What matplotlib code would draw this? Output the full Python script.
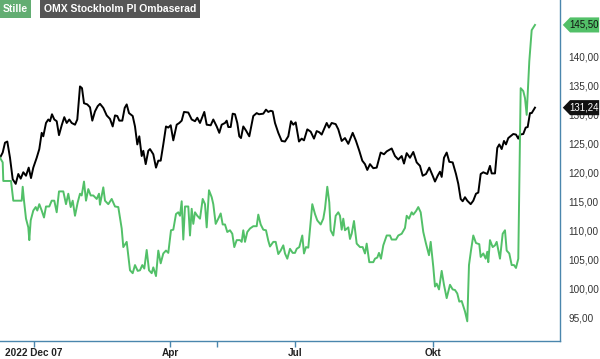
import matplotlib
matplotlib.use('Agg')
import numpy as np
from matplotlib import pyplot as plt
from matplotlib.patches import Polygon

plt.rcParams['font.family'] = ['Liberation Sans', 'DejaVu Sans']

# session index (x) and index values
omx_x = [0, 2.7, 5, 7.3, 10, 12.7, 15.7, 18.3, 20.7, 23.3, 26, 28.7, 31, 33.3, 36.7, 39.3,
         41.7, 43.3, 46, 48.3, 50, 52, 54.3, 56.7, 59, 61.7, 64.3, 66.7, 69.3, 71.7, 75, 77.3,
         80, 82, 84, 87.3, 90, 92.3, 95, 97.7, 100, 103.3, 106.7, 110, 112.7, 115, 117.3, 119.3,
         122.3, 124.7, 126.7, 129, 132.7, 135, 137.3, 139.3, 141.7, 143.3, 145.7, 148.3, 150,
         153.3, 156, 158.3, 160.7, 163.3, 166, 168.3, 170.7, 173.3, 176.7, 179.3, 181.7, 184,
         188.3, 191.7, 195, 197.3, 200, 204.3, 206.7, 210.7, 213.3, 216.7, 219.3, 221.7, 225,
         226.7, 228.3, 230.7, 232.7, 235, 237.3, 239.3, 241, 243.3, 246, 249.3, 253.3, 256.7,
         259, 263.3, 266, 268.3, 270.7, 272.7, 275, 278.3, 281.7, 285, 288.3, 291, 293.3, 295.7,
         299, 301.7, 304, 307.3, 310.7, 314, 316.7, 319.3, 321.7, 326.7, 329, 331.7, 335.7,
         338.3, 341.7, 345, 348.3, 352.7, 356, 359.3, 362.3, 365, 367.3, 370, 373.3, 376.7,
         380.7, 384, 386.7, 391.7, 395, 398.3, 401.7, 404, 406.7, 410, 413.3, 416.7, 420, 422.7,
         426, 429.3, 432.7, 435, 437.7, 440, 441.7, 444, 446.7, 449.3, 452.7, 456, 458.3, 460.7,
         462.7, 465, 467.3, 470.7, 473.3, 476, 478.3, 480.7, 483.3, 487.3, 490, 491.7, 495,
         497.3, 499.3, 501.7, 504, 506, 508.3, 513.3, 516, 518.3, 520, 523.3, 525.7, 527.7, 530,
         531.7, 535]
omx_y = [122.6, 123.5, 125.2, 125.4, 122.6, 118.9, 118.1, 119.8, 119.0, 120.1, 119.5, 120.9,
         119.1, 120.9, 122.6, 124.1, 126.9, 126.3, 128.6, 129.2, 128.9, 130.1, 129.2, 128.9,
         126.5, 128.2, 129.6, 128.6, 129.2, 128.6, 128.3, 129.2, 134.9, 134.6, 132.0, 131.8,
         131.3, 129.0, 130.6, 131.5, 131.9, 131.2, 129.9, 129.3, 128.0, 129.9, 129.8, 129.0,
         129.0, 131.2, 131.8, 130.3, 129.8, 128.0, 124.9, 126.3, 122.9, 123.8, 121.5, 123.8,
         124.1, 123.2, 120.9, 122.1, 122.1, 124.9, 128.0, 127.8, 128.2, 125.6, 128.3, 128.6,
         129.0, 130.5, 130.4, 129.2, 128.9, 129.5, 128.6, 130.5, 128.3, 128.2, 129.2, 128.0,
         126.9, 128.3, 128.6, 129.0, 127.9, 127.9, 130.2, 130.1, 128.6, 126.3, 126.0, 128.0,
         127.3, 126.3, 129.8, 130.3, 130.1, 130.2, 130.9, 130.5, 130.7, 130.6, 128.6, 126.9,
         125.5, 125.4, 126.3, 128.9, 128.3, 128.7, 125.4, 125.9, 125.6, 127.5, 127.1, 125.9,
         127.2, 127.0, 126.6, 128.6, 127.8, 128.6, 128.4, 127.5, 125.5, 126.0, 125.0, 126.9,
         125.5, 123.8, 122.1, 121.5, 120.5, 121.5, 120.8, 120.9, 123.5, 123.2, 123.7, 124.2,
         122.9, 122.3, 122.9, 121.6, 123.4, 122.6, 123.6, 121.8, 121.2, 119.5, 119.8, 120.9,
         119.5, 118.5, 119.5, 120.2, 119.3, 122.6, 123.5, 121.9, 121.8, 119.8, 118.1, 115.5,
         115.1, 115.8, 115.2, 114.6, 115.2, 116.4, 116.6, 119.8, 120.1, 119.8, 121.2, 119.9,
         119.9, 124.3, 124.9, 124.1, 125.5, 124.9, 126.0, 126.7, 126.6, 125.9, 126.6, 126.7,
         127.8, 127.9, 130.3, 130.3, 131.24]

stille_x = [0, 2.7, 3.3, 11, 13.3, 21.7, 22.7, 24, 26, 28.3, 29.3, 30.7, 33.3, 35.7, 37.3,
            39.3, 41.7, 44, 46, 49.3, 51.7, 54.3, 56.7, 59, 63.3, 66, 68.3, 70.7, 72.7, 75,
            77.7, 80, 81.7, 84, 86, 88.3, 90.7, 93.3, 96.7, 99, 100, 103.3, 105, 108.3, 111.7,
            115, 118.3, 121.7, 123.3, 126.7, 130, 132.7, 135, 137.7, 140, 142.3, 144.3, 146.7,
            149, 151.7, 153.3, 156, 158.3, 160.7, 163.3, 166, 168.3, 171, 173.3, 176, 178.3,
            180, 181.7, 183.3, 185, 188.3, 190, 191.7, 193.3, 195, 197.3, 200, 202.7, 205,
            206.7, 209, 211.7, 213.3, 215.7, 218.3, 220.7, 222.7, 225, 227.3, 230, 232.3,
            234.3, 236.7, 240, 241.7, 243.3, 245, 247.3, 250, 253.3, 256.7, 258.3, 260.7,
            263.3, 266, 268.3, 270, 273.3, 275.7, 278.3, 280.7, 283.3, 285, 287.3, 290, 292.7,
            295, 296.7, 299.3, 302.3, 304, 306, 308.3, 312.3, 315, 317.3, 320.7, 323.3, 325,
            327.3, 329.3, 330.7, 333.3, 335.7, 338.3, 340, 341.7, 343.3, 345, 348.3, 350,
            351.7, 354, 356.7, 360, 362.7, 365, 366.7, 369.3, 373.3, 375, 377.3, 379, 381,
            383.3, 386.7, 390, 391.7, 396, 398.3, 401.7, 405, 406.7, 409, 411.7, 413.3, 416,
            418.3, 420.7, 423.3, 426, 429, 430.7, 433.3, 435, 436.7, 439, 441.7, 444, 446.7,
            450, 452.7, 455, 457.3, 459.3, 461.7, 465, 467.3, 469, 471, 473.3, 476, 479.3,
            480.7, 483.3, 485.7, 487.3, 488.3, 490, 492.7, 495, 496.7, 500, 502.7, 505, 506.7,
            509.3, 511.7, 514, 516, 518.3, 520.7, 523.3, 525, 526.7, 529.3, 531.7, 535]
stille_y = [122.6, 121.8, 118.6, 118.6, 115.2, 115.2, 117.6, 115.2, 112.1, 110.6, 108.4,
            111.8, 113.5, 114.1, 113.5, 114.6, 113.5, 112.3, 114.2, 114.2, 115.2, 115.2, 113.2,
            116.8, 116.8, 114.6, 116.4, 114.1, 115.2, 112.6, 114.9, 116.4, 116.1, 118.5, 115.2,
            117.2, 116.1, 116.1, 115.5, 116.4, 114.5, 117.5, 115.2, 114.6, 115.5, 114.2, 114.1,
            110.4, 107.2, 108.1, 103.2, 102.7, 104.1, 103.1, 103.2, 104.1, 103.5, 106.7, 103.2,
            102.7, 103.7, 102.2, 106.6, 104.4, 106.1, 106.6, 106.2, 110.1, 110.2, 112.9, 113.2,
            112.6, 115.1, 108.5, 114.2, 114.2, 109.2, 113.8, 111.2, 113.2, 112.6, 112.1, 115.5,
            114.6, 110.6, 117.0, 115.8, 114.6, 111.2, 112.1, 113.0, 111.1, 111.1, 109.8, 110.1,
            109.5, 107.2, 108.4, 108.4, 108.1, 110.1, 108.1, 109.8, 110.4, 110.8, 110.8, 112.8,
            111.1, 110.2, 110.1, 108.3, 107.3, 108.1, 108.1, 106.0, 106.6, 107.5, 106.1, 105.2,
            106.9, 106.2, 106.2, 106.9, 107.2, 109.2, 106.1, 107.2, 107.1, 114.6, 112.9, 111.8,
            111.1, 112.1, 113.8, 117.6, 114.9, 110.1, 109.2, 112.6, 113.2, 112.6, 110.2, 112.1,
            110.1, 110.6, 108.6, 109.5, 111.7, 107.8, 107.2, 107.2, 106.1, 107.8, 104.6, 104.6,
            105.2, 105.4, 106.2, 105.2, 107.5, 109.2, 109.2, 108.5, 108.5, 109.2, 109.5, 110.5,
            112.6, 112.1, 113.2, 112.8, 113.4, 114.1, 113.2, 109.8, 107.8, 105.8, 108.1, 103.8,
            100.4, 100.9, 99.9, 103.1, 100.7, 98.4, 100.7, 99.9, 99.8, 99.2, 97.8, 97.9, 96.1,
            94.4, 104.1, 106.6, 109.2, 107.9, 107.7, 105.5, 106.1, 105.2, 106.4, 104.6, 108.4,
            107.2, 107.5, 108.1, 105.2, 109.5, 110.1, 106.6, 106.1, 104.1, 104.1, 103.6, 105.2,
            134.6, 134.1, 132.9, 130.0, 139.2, 144.6, 145.5]

tick_pos = [34, 170, 295, 433]
tick_labels = ['2022 Dec 07', 'Apr', 'Jul', 'Okt']
marker_pos = 217
yticks = [95, 100, 105, 110, 115, 120, 125, 130, 135, 140]
last_stille = 145.50
last_omx = 131.24

GREEN = '#52c068'
AXC = '#4a86ad'

def fmt(v):
    return ('%.2f' % v).replace('.', ',')

fig = plt.figure(figsize=(6, 3.59), dpi=100)
ax = fig.add_axes([0.0, 0.05, 0.9333, 0.95])

ax.plot(omx_x, omx_y, color='black', lw=1.4, solid_joinstyle='round')
ax.plot(stille_x, stille_y, color=GREEN, lw=1.4, solid_joinstyle='round')

ax.set_xlim(0, 560)
ax.set_ylim(91.0, 149.8)

for s in ['top', 'left']:
    ax.spines[s].set_visible(False)
for s in ['right', 'bottom']:
    ax.spines[s].set_color(AXC)
    ax.spines[s].set_linewidth(1.0)

ax.set_xticks(tick_pos + [marker_pos])
ax.set_xticklabels(tick_labels + [''], fontsize=7.2, fontweight='bold', color='#222222')
ax.tick_params(axis='x', length=4, width=1, color=AXC, pad=1)
ax.get_xticklabels()[0].set_horizontalalignment('center')
ax.get_xticklines()[-2].set_color('#ff5555')

ax.yaxis.tick_right()
ax.set_yticks(yticks)
ax.set_yticklabels([fmt(v) for v in yticks], fontsize=7.2, color='#333333')
ax.tick_params(axis='y', length=0, pad=6)

# value tags on the right
def tag(val, face, tcolor):
    h = 1.3
    trans = ax.get_yaxis_transform()
    pts = [(1.005, val), (1.018, val + h), (1.07, val + h), (1.07, val - h), (1.018, val - h)]
    ax.add_patch(Polygon(pts, closed=True, transform=trans, facecolor=face,
                         edgecolor='none', clip_on=False, zorder=5))
    ax.text(1.043, val, fmt(val), transform=trans, ha='center',
            va='center', fontsize=7, color=tcolor, zorder=6, clip_on=False)

tag(last_stille, GREEN, '#111111')
tag(last_omx, '#111111', 'white')

# legend boxes
fig.text(0.004, 0.975, 'Stille', fontsize=7.5, fontweight='bold', color='white', va='center',
         bbox=dict(boxstyle='square,pad=0.35', facecolor='#62ad72', edgecolor='none'))
fig.text(0.073, 0.975, 'OMX Stockholm PI Ombaserad', fontsize=7.5, fontweight='bold',
         color='white', va='center',
         bbox=dict(boxstyle='square,pad=0.35', facecolor='#555555', edgecolor='none'))

fig.savefig('out.png', dpi=100)
